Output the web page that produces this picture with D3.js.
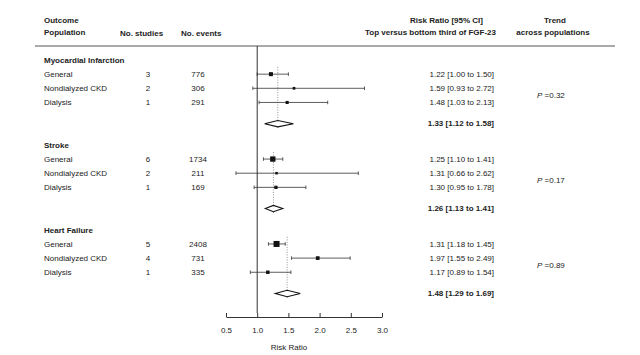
<!DOCTYPE html>
<html><head><meta charset="utf-8">
<script src="https://cdn.jsdelivr.net/npm/d3@7"></script>
<style>body{margin:0;background:#fff}svg{display:block;font-family:"Liberation Sans",Arial,sans-serif}</style>
</head><body><svg id="c" width="640" height="355"></svg>
<script>
const groups = ["Myocardial Infarction", "Stroke", "Heart Failure"];
const populations = ["General", "Nondialyzed CKD", "Dialysis"];
const nStudies = [[3,2,1],[6,2,1],[5,4,1]];
const nEvents = [[776,306,291],[1734,211,169],[2408,731,335]];
const rr = [[1.22,1.59,1.48],[1.25,1.31,1.30],[1.31,1.97,1.17]];
const lower = [[1.00,0.93,1.03],[1.10,0.66,0.95],[1.18,1.55,0.89]];
const upper = [[1.50,2.72,2.13],[1.41,2.62,1.78],[1.45,2.49,1.54]];
const pooledRR = [1.33,1.26,1.48];
const pooledLo = [1.12,1.13,1.29];
const pooledHi = [1.58,1.41,1.69];
const pTrend = ["0.32","0.17","0.89"];
const xTicks = [0.5,1.0,1.5,2.0,2.5,3.0];

const svg = d3.select("#c");
const fs = 8, txt = "#222", ln = "#333";
const x = d3.scaleLinear().domain([0.5,3.0]).range([226,382]);
const y = d3.scaleLinear().domain([0,1]).range([60,74.15]);
const f2 = d3.format(".2f");
const se = (lo,hi)=> (Math.log(hi)-Math.log(lo))/3.92;
const box = d3.scaleLinear().domain([9.7,19]).range([4,6]);

function t(xx,yy,s,opt={}){
  return svg.append("text").attr("x",xx).attr("y",yy).attr("dy","0.35em")
    .attr("font-size",opt.fs||fs).attr("fill",txt)
    .attr("font-weight",opt.bold?"bold":null)
    .attr("text-anchor",opt.anchor||"start").text(s);
}
// header
t(44,20,"Outcome",{bold:true});
t(44,32,"Population",{bold:true});
t(120,33,"No. studies",{bold:true});
t(181,33,"No. events",{bold:true});
t(483,20,"Risk Ratio [95% CI]",{bold:true,anchor:"end"});
t(496,32,"Top versus bottom third of FGF-23",{bold:true,anchor:"end"});
t(555,20,"Trend",{bold:true,anchor:"middle"});
t(553,32,"across populations",{bold:true,anchor:"middle"});
svg.append("line").attr("x1",35).attr("x2",615).attr("y1",46).attr("y2",46).attr("stroke","#555").attr("stroke-width",1);

// null line
svg.append("line").attr("x1",x(1)).attr("x2",x(1)).attr("y1",46).attr("y2",313).attr("stroke",ln).attr("stroke-width",1);

groups.forEach((g,gi)=>{
  const base = gi*6;
  t(44,y(base),g,{bold:true});
  // reference dotted line
  svg.append("line").attr("x1",x(pooledRR[gi])).attr("x2",x(pooledRR[gi]))
    .attr("y1",y(base+0.5)).attr("y2",y(base+4.85))
    .attr("stroke","#777").attr("stroke-width",0.8).attr("stroke-dasharray","1,1.5");
  populations.forEach((p,pi)=>{
    const yy = y(base+1+pi);
    t(44,yy,p);
    t(148,yy,nStudies[gi][pi],{anchor:"middle"});
    t(198,yy,nEvents[gi][pi],{anchor:"middle"});
    t(494,yy,`${f2(rr[gi][pi])} [${f2(lower[gi][pi])} to ${f2(upper[gi][pi])}]`,{anchor:"end"});
    const x1=x(lower[gi][pi]), x2=x(upper[gi][pi]);
    svg.append("line").attr("x1",x1).attr("x2",x2).attr("y1",yy).attr("y2",yy).attr("stroke",ln).attr("stroke-width",0.8);
    [x1,x2].forEach(cx=>svg.append("line").attr("x1",cx).attr("x2",cx).attr("y1",yy-1.8).attr("y2",yy+1.8).attr("stroke",ln).attr("stroke-width",0.8));
    const w = 1/Math.pow(se(lower[gi][pi],upper[gi][pi]),2);
    const s = Math.max(2.2, box(Math.sqrt(w)));
    svg.append("rect").attr("x",x(rr[gi][pi])-s/2).attr("y",yy-s/2).attr("width",s).attr("height",s).attr("fill","#111");
  });
  const py = y(base+4.5);
  const d = [[x(pooledLo[gi]),py],[x(pooledRR[gi]),py-3.2],[x(pooledHi[gi]),py],[x(pooledRR[gi]),py+3.2]];
  svg.append("path").attr("d",d3.line()(d)+"Z").attr("fill","#fff").attr("stroke","#111").attr("stroke-width",1.1);
  t(494,py,`${f2(pooledRR[gi])} [${f2(pooledLo[gi])} to ${f2(pooledHi[gi])}]`,{anchor:"end",bold:true});
  const pt = svg.append("text").attr("x",537).attr("y",y(base+2.5)).attr("dy","0.35em").attr("font-size",fs).attr("fill",txt);
  pt.append("tspan").attr("font-style","italic").text("P");
  pt.append("tspan").text(" =" + pTrend[gi]);
});

// axis
const ax = svg.append("g").attr("transform","translate(0,317)")
  .call(d3.axisTop(x).tickValues(xTicks).tickFormat(d3.format(".1f")).tickSize(4).tickSizeOuter(0));
ax.select(".domain").attr("stroke",ln);
ax.selectAll(".tick line").attr("stroke",ln);
ax.selectAll(".tick text").attr("y",13).attr("dy","0.35em").attr("font-size",fs).attr("fill",txt).attr("font-family",null);
t(x(1.5)+0.5,347,"Risk Ratio",{anchor:"middle"});
</script></body></html>
